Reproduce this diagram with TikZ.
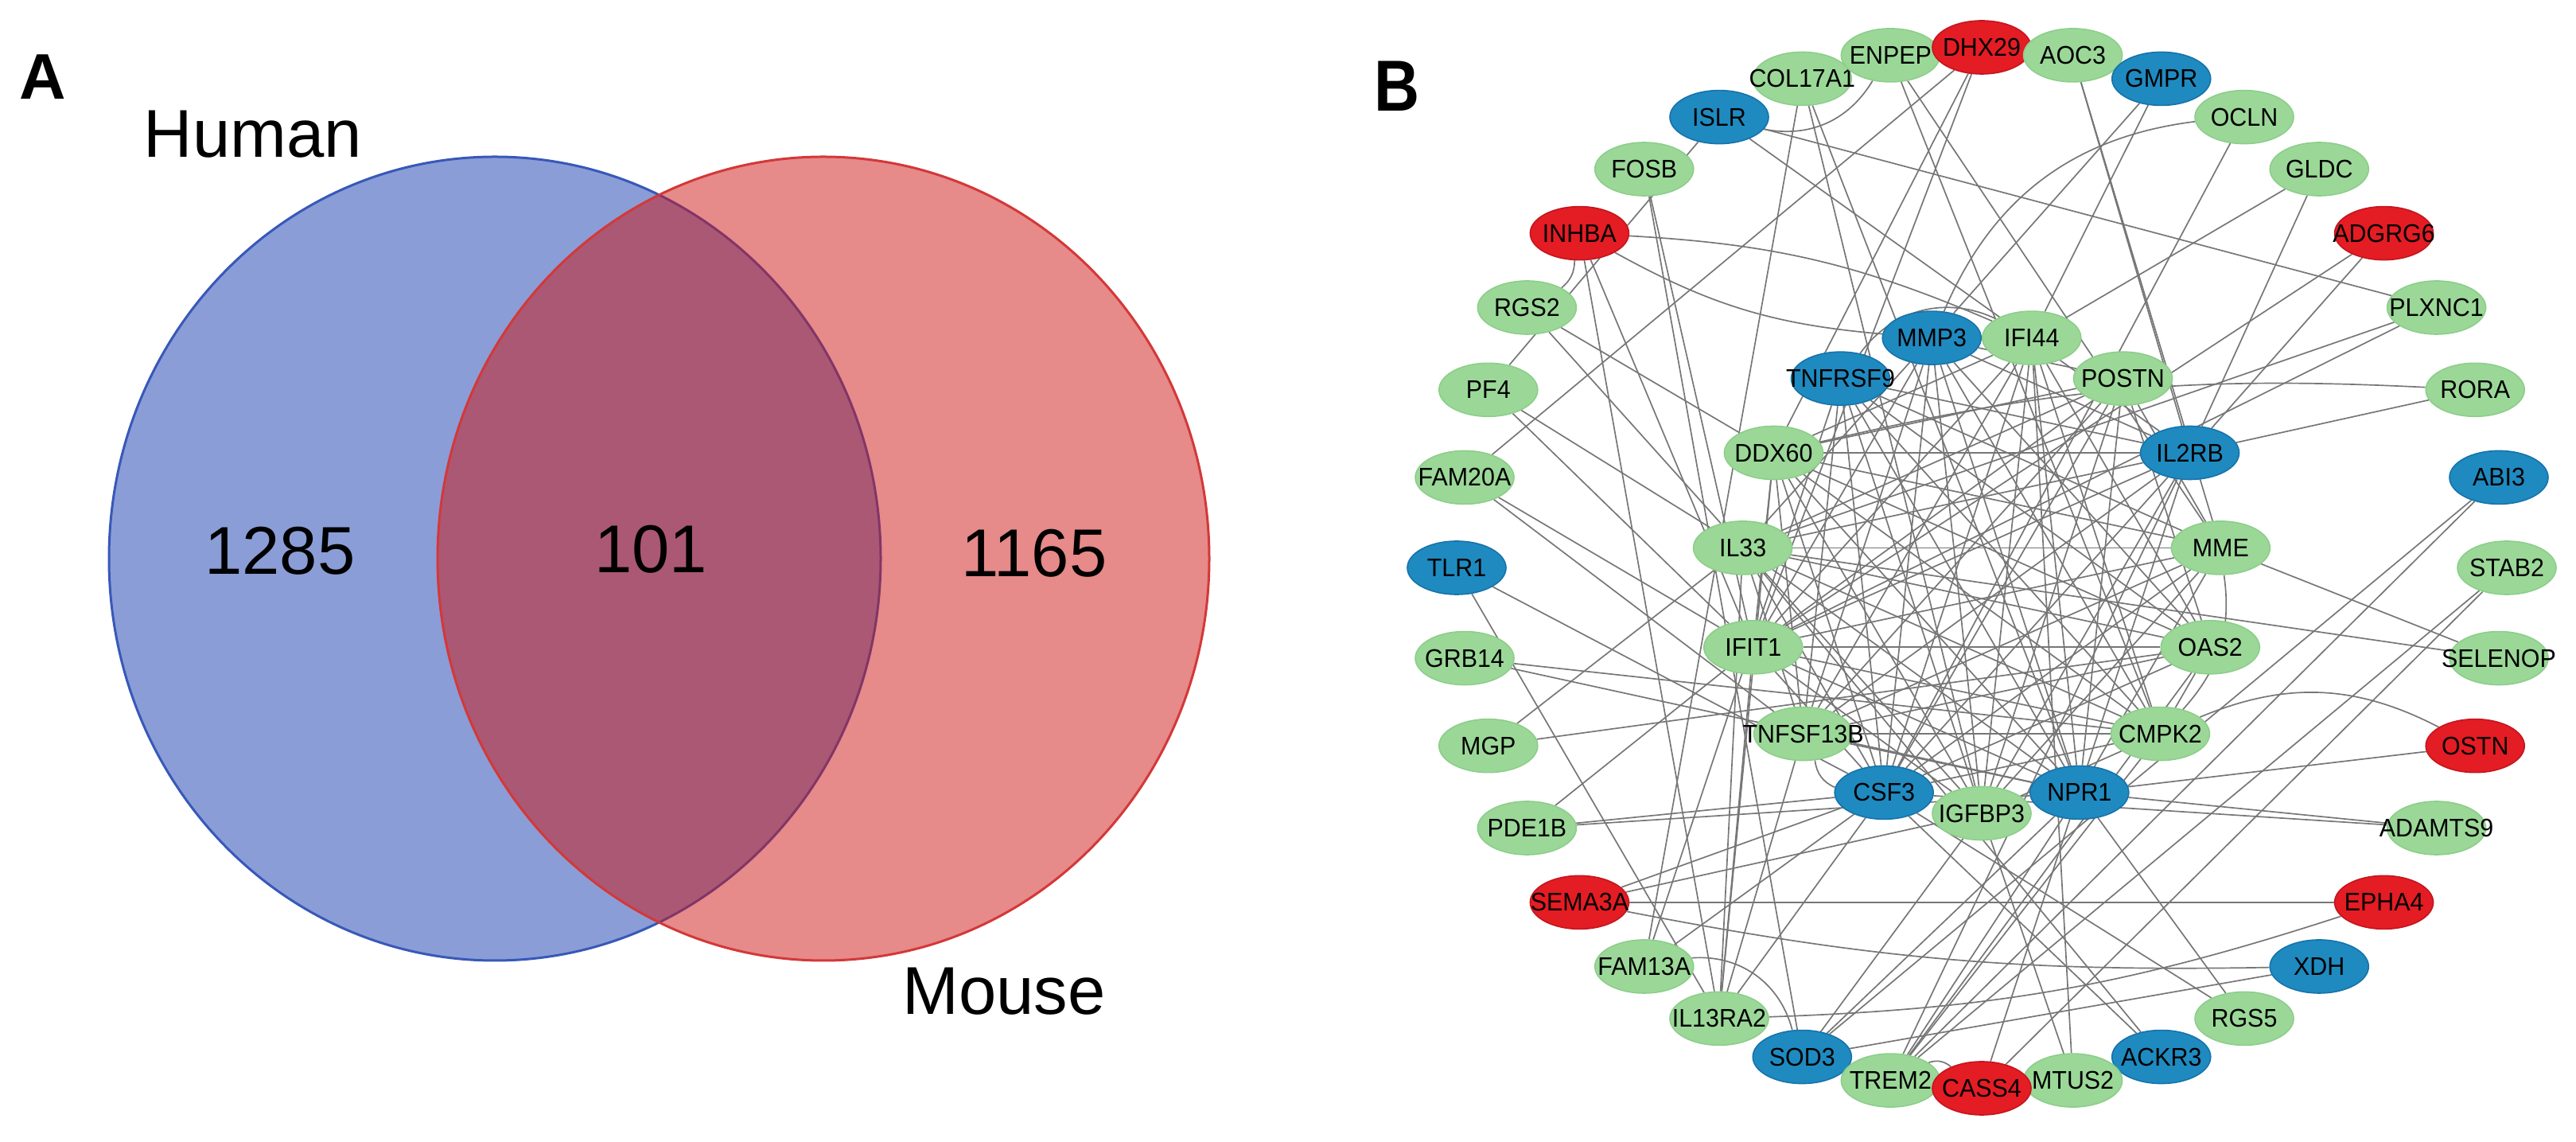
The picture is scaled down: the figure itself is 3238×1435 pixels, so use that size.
\documentclass[tikz,border=0pt]{standalone}
\usepackage{fontspec}
\setmainfont{Liberation Sans}
\newfontfamily\netfont[FakeStretch=0.95]{Liberation Sans}
\newfontfamily\panelfont[FakeStretch=0.87]{Liberation Sans}
\usetikzlibrary{shapes.geometric,backgrounds}

\definecolor{humanblue}{RGB}{21,59,173}
\definecolor{mousered}{RGB}{205,21,21}
\definecolor{gfill}{RGB}{155,216,152}
\definecolor{gline}{RGB}{140,206,138}
\definecolor{bfill}{RGB}{31,138,192}
\definecolor{bline}{RGB}{22,115,170}
\definecolor{rfill}{RGB}{228,28,36}
\definecolor{rline}{RGB}{196,22,30}
\definecolor{edgegray}{RGB}{118,118,118}

\tikzset{
  gene/.style={ellipse, minimum width=31pt, minimum height=16.75pt, inner sep=0pt,
    line width=0.4pt, font=\netfont\fontsize{8}{9}\selectfont},
  gnode/.style={gene, fill=gfill, draw=gline},
  bnode/.style={gene, fill=bfill, draw=bline},
  rnode/.style={gene, fill=rfill, draw=rline},
  ppi/.style={draw=edgegray, line width=0.42pt},
  vennlabel/.style={anchor=base, font=\fontsize{21.25}{24}\selectfont},
}

\begin{document}
\begin{tikzpicture}[x=0.25pt,y=0.25pt]
\useasboundingbox (0,0) rectangle (3238,1435);

% panel A: Venn diagram
\filldraw[fill=humanblue, fill opacity=0.5, draw=humanblue!85!white, line width=0.75pt]
  (622,733) ellipse [x radius=485, y radius=505];
\filldraw[fill=mousered, fill opacity=0.5, draw=mousered!85!white, line width=0.75pt]
  (1035,733) ellipse [x radius=485, y radius=505];
\node[anchor=base, font=\bfseries\fontsize{20.25}{22}\selectfont] (labelA) at (54,1310) {A};
\node[vennlabel] (human) at (318,1237) {Human};
\node[vennlabel] (mouse) at (1262,160) {Mouse};
\node[vennlabel] (nhuman) at (352,713) {1285};
\node[vennlabel] (nboth) at (818,715) {101};
\node[vennlabel] (nmouse) at (1300,710) {1165};

% panel B: network
\node[anchor=base, font=\panelfont\bfseries\fontsize{22.7}{24}\selectfont] (labelB) at (1756,1295) {B};

% outer ring
\begin{scope}[shift={(2491,721.5)}]
\node[gnode] (COL17A1) at (110:660 and 654) {\makebox[0pt]{COL17A1}};
\node[gnode] (ENPEP) at (100:660 and 654) {\makebox[0pt]{ENPEP}};
\node[rnode] (DHX29) at (90:660 and 654) {\makebox[0pt]{DHX29}};
\node[gnode] (AOC3) at (80:660 and 654) {\makebox[0pt]{AOC3}};
\node[bnode] (GMPR) at (70:660 and 654) {\makebox[0pt]{GMPR}};
\node[gnode] (OCLN) at (60:660 and 654) {\makebox[0pt]{OCLN}};
\node[gnode] (GLDC) at (50:660 and 654) {\makebox[0pt]{GLDC}};
\node[rnode] (ADGRG6) at (40:660 and 654) {\makebox[0pt]{ADGRG6}};
\node[gnode] (PLXNC1) at (30:660 and 654) {\makebox[0pt]{PLXNC1}};
\node[gnode] (RORA) at (20:660 and 654) {\makebox[0pt]{RORA}};
\node[bnode] (ABI3) at (10:660 and 654) {\makebox[0pt]{ABI3}};
\node[gnode] (STAB2) at (0:660 and 654) {\makebox[0pt]{STAB2}};
\node[gnode] (SELENOP) at (-10:660 and 654) {\makebox[0pt]{SELENOP}};
\node[rnode] (OSTN) at (-20:660 and 654) {\makebox[0pt]{OSTN}};
\node[gnode] (ADAMTS9) at (-30:660 and 654) {\makebox[0pt]{ADAMTS9}};
\node[rnode] (EPHA4) at (-40:660 and 654) {\makebox[0pt]{EPHA4}};
\node[bnode] (XDH) at (-50:660 and 654) {\makebox[0pt]{XDH}};
\node[gnode] (RGS5) at (-60:660 and 654) {\makebox[0pt]{RGS5}};
\node[bnode] (ACKR3) at (-70:660 and 654) {\makebox[0pt]{ACKR3}};
\node[gnode] (MTUS2) at (-80:660 and 654) {\makebox[0pt]{MTUS2}};
\node[bnode] (ISLR) at (120:660 and 654) {\makebox[0pt]{ISLR}};
\node[gnode] (FOSB) at (130:660 and 654) {\makebox[0pt]{FOSB}};
\node[rnode] (INHBA) at (140:660 and 654) {\makebox[0pt]{INHBA}};
\node[gnode] (RGS2) at (150:660 and 654) {\makebox[0pt]{RGS2}};
\node[gnode] (PF4) at (160:660 and 654) {\makebox[0pt]{PF4}};
\node[gnode] (FAM20A) at (170:660 and 654) {\makebox[0pt]{FAM20A}};
\node[bnode] (TLR1) at (180:660 and 654) {\makebox[0pt]{TLR1}};
\node[gnode] (GRB14) at (190:660 and 654) {\makebox[0pt]{GRB14}};
\node[gnode] (MGP) at (200:660 and 654) {\makebox[0pt]{MGP}};
\node[gnode] (PDE1B) at (210:660 and 654) {\makebox[0pt]{PDE1B}};
\node[rnode] (SEMA3A) at (220:660 and 654) {\makebox[0pt]{SEMA3A}};
\node[gnode] (FAM13A) at (230:660 and 654) {\makebox[0pt]{FAM13A}};
\node[gnode] (IL13RA2) at (240:660 and 654) {\makebox[0pt]{IL13RA2}};
\node[bnode] (SOD3) at (250:660 and 654) {\makebox[0pt]{SOD3}};
\node[gnode] (TREM2) at (260:660 and 654) {\makebox[0pt]{TREM2}};
\node[rnode] (CASS4) at (270:660 and 654) {\makebox[0pt]{CASS4}};
\end{scope}

% inner ring
\begin{scope}[shift={(2491,715)}]
\node[bnode] (MMP3) at (102:302) {\makebox[0pt]{MMP3}};
\node[gnode] (IFI44) at (78:302) {\makebox[0pt]{IFI44}};
\node[gnode] (POSTN) at (54:302) {\makebox[0pt]{POSTN}};
\node[bnode] (IL2RB) at (30:302) {\makebox[0pt]{IL2RB}};
\node[gnode] (MME) at (6:302) {\makebox[0pt]{MME}};
\node[gnode] (OAS2) at (-18:302) {\makebox[0pt]{OAS2}};
\node[gnode] (CMPK2) at (-42:302) {\makebox[0pt]{CMPK2}};
\node[bnode] (NPR1) at (-66:302) {\makebox[0pt]{NPR1}};
\node[bnode] (CSF3) at (-114:302) {\makebox[0pt]{CSF3}};
\node[gnode] (IGFBP3) at (-90:302) {\makebox[0pt]{IGFBP3}};
\node[gnode] (TNFSF13B) at (-138:302) {\makebox[0pt]{TNFSF13B}};
\node[gnode] (IFIT1) at (-162:302) {\makebox[0pt]{IFIT1}};
\node[gnode] (IL33) at (174:302) {\makebox[0pt]{IL33}};
\node[gnode] (DDX60) at (150:302) {\makebox[0pt]{DDX60}};
\node[bnode] (TNFRSF9) at (126:302) {\makebox[0pt]{TNFRSF9}};
\end{scope}

% interactions
\begin{scope}[on background layer]
\foreach \a/\b in {DHX29/DDX60, DHX29/IFIT1, AOC3/IL2RB, AOC3/MME, GMPR/MMP3, GMPR/IFI44,
    OCLN/CSF3, GLDC/IFI44, GLDC/IL2RB, ADGRG6/IL2RB, ADGRG6/IFIT1, PLXNC1/IL33, PLXNC1/IFIT1,
    RORA/IL2RB, ABI3/TREM2, ABI3/SOD3, STAB2/TREM2, STAB2/CASS4, SELENOP/MME, SELENOP/IL33,
    OSTN/NPR1, ADAMTS9/NPR1, ADAMTS9/CSF3, XDH/SOD3, RGS5/NPR1, RGS5/CSF3, ACKR3/CSF3,
    ACKR3/IL33, MTUS2/IGFBP3, MTUS2/IFI44, CASS4/IL2RB, TREM2/OAS2, TREM2/CMPK2, TREM2/IL2RB,
    TREM2/NPR1, SOD3/IGFBP3, SOD3/NPR1, IL13RA2/IL33, IL13RA2/IFIT1, IL13RA2/TNFSF13B,
    IL13RA2/CSF3, IL13RA2/DDX60, FAM13A/CSF3, FAM13A/TNFRSF9, SEMA3A/CSF3, SEMA3A/IGFBP3,
    SEMA3A/EPHA4, PDE1B/NPR1, PDE1B/CSF3, PDE1B/IFIT1, MGP/OAS2, MGP/IL33, GRB14/CMPK2,
    GRB14/NPR1, TLR1/CSF3, TLR1/IL13RA2, FAM20A/TNFSF13B, FAM20A/IFIT1, FAM20A/DHX29,
    PF4/IFIT1, PF4/IL33, PF4/ISLR, RGS2/DDX60, RGS2/IL33, INHBA/IL13RA2, INHBA/IFIT1,
    FOSB/SOD3, FOSB/IFIT1, COL17A1/FAM13A, COL17A1/IGFBP3, COL17A1/NPR1, ENPEP/MME,
    ENPEP/CMPK2, ISLR/IL2RB, ISLR/PLXNC1}
  \draw[ppi] (\a) -- (\b);
\foreach \a/\b in {IFI44/IFIT1, IFI44/OAS2, IFI44/CMPK2, IFI44/DDX60, IFIT1/OAS2, IFIT1/CMPK2,
    IFIT1/DDX60, OAS2/CMPK2, OAS2/DDX60, CMPK2/DDX60, IL33/MMP3, IL33/CSF3, IL33/IL2RB,
    IL33/TNFSF13B, IL33/POSTN, IL33/IGFBP3, IL33/MME, MMP3/POSTN, MMP3/CSF3, MMP3/IGFBP3,
    MMP3/TNFSF13B, MMP3/IL2RB, MMP3/NPR1, MMP3/IFIT1, TNFRSF9/IL2RB, TNFRSF9/TNFSF13B,
    TNFRSF9/CSF3, TNFRSF9/OAS2, TNFRSF9/MME, TNFRSF9/CMPK2, POSTN/IGFBP3, POSTN/CSF3,
    POSTN/MME, POSTN/IFIT1, POSTN/DDX60, IL2RB/CSF3, IL2RB/TNFSF13B, IL2RB/IFIT1,
    IL2RB/IGFBP3, IL2RB/DDX60, MME/NPR1, MME/IGFBP3, MME/TNFSF13B, NPR1/TNFSF13B,
    NPR1/DDX60, NPR1/IFI44, CSF3/OAS2, CSF3/IFIT1, CSF3/IFI44, TNFSF13B/OAS2,
    TNFSF13B/IFI44, TNFSF13B/DDX60, IGFBP3/IFI44, IGFBP3/DDX60, IGFBP3/CMPK2,
    DDX60/MME, DDX60/CSF3, IL33/OAS2, IL33/CMPK2, IL33/NPR1, IFIT1/IGFBP3, IFIT1/NPR1,
    TNFRSF9/NPR1, TNFRSF9/IGFBP3, MMP3/OAS2, MMP3/CMPK2, POSTN/OAS2, POSTN/TNFSF13B,
    POSTN/NPR1, MME/IFIT1, MME/CSF3, CMPK2/TNFSF13B, CMPK2/CSF3}
  \draw[ppi] (\a) -- (\b);
% curved ones
\draw[ppi] (RGS2) to[bend right=25] (INHBA);
\draw[ppi] (ISLR) to[bend right=35] (ENPEP);
\draw[ppi] (OCLN) to[bend right=30] (MMP3);
\draw[ppi] (OSTN) to[bend right=25] (CMPK2);
\draw[ppi] (SEMA3A) to[bend right=6] (XDH);
\draw[ppi] (FAM13A) to[bend left=40] (SOD3);
\draw[ppi] (CASS4) to[bend right=30] (TREM2);
\draw[ppi] (EPHA4) to[bend left=8] (IL13RA2);
\draw[ppi] (INHBA) to[bend right=12] (MMP3);
\draw[ppi] (INHBA) to[bend left=10] (IFI44);
\draw[ppi] (RORA) to[bend right=8] (DDX60);
\draw[ppi] (IFI44) to[bend right=40] (TNFRSF9);
\draw[ppi] (MME) to[bend left=25] (CMPK2);
\draw[ppi] (CSF3) to[bend left=30] (TNFSF13B);
\end{scope}
\end{tikzpicture}
\end{document}
